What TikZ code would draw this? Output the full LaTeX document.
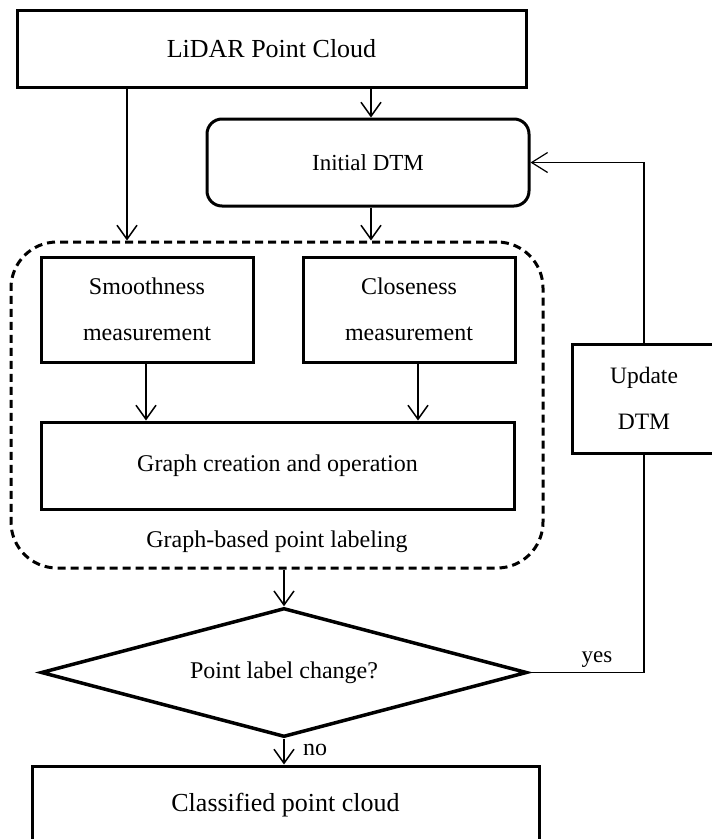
\documentclass[tikz,border=0pt]{standalone}
\usepackage{fontspec}
\setmainfont{Liberation Serif}
\usetikzlibrary{arrows.meta,shapes.geometric}
\begin{document}
\begin{tikzpicture}[x=1pt,y=-1pt,
  box/.style={draw,line width=3pt,rectangle,inner sep=0pt,align=center,font=\fontsize{24}{46}\selectfont},
  bigbox/.style={box,font=\fontsize{26}{30}\selectfont},
  arr/.style={line width=1.5pt,-{Straight Barb[length=14pt,width=20pt]}},
  fb/.style={line width=1.2pt},
  lbl/.style={inner sep=0pt,font=\fontsize{24}{28}\selectfont}]
\useasboundingbox (0,0) rectangle (712,839);
\node[bigbox,minimum width=509pt,minimum height=77pt] (lidar) at (271.5,48.5) {LiDAR Point Cloud};
\node[box,rounded corners=15pt,minimum width=322pt,minimum height=87pt,font=\fontsize{23}{28}\selectfont] (init) at (368,162.5) {Initial DTM};
\node[draw,line width=3pt,dash pattern=on 8pt off 5pt,rounded corners=46pt,minimum width=532pt,minimum height=326pt,inner sep=0pt] (group) at (277,405) {};
\node[box,minimum width=212pt,minimum height=105pt] (smooth) at (147,309.5) {Smoothness\\measurement};
\node[box,minimum width=212pt,minimum height=105pt] (close) at (409,309.5) {Closeness\\measurement};
\node[box,minimum width=473pt,minimum height=87pt] (graph) at (277.5,465.5) {Graph creation and operation};
\node[lbl] (glabel) at (277,542) {Graph-based point labeling};
\node[box,minimum width=144pt,minimum height=109pt,font=\fontsize{23.5}{46}\selectfont] (update) at (644,398.5) {Update\\DTM};
\node[draw,diamond,line width=3.5pt,inner sep=0pt,minimum width=486pt,minimum height=129pt,aspect=3.77,font=\fontsize{24}{28}\selectfont] (dec) at (284,672.5) {Point label change?};
\node[bigbox,minimum width=507pt,minimum height=78pt] (cls) at (285.5,805) {Classified point cloud};
\coordinate (xL) at (127,0);
\coordinate (xI) at (371,0);
\coordinate (xS) at (146,0);
\coordinate (xC) at (418,0);
\draw[arr] (lidar.south -| xI) -- (init.north -| xI);
\draw[arr] (lidar.south -| xL) -- (group.north -| xL);
\draw[arr] (init.south -| xI) -- (group.north -| xI);
\draw[arr] (smooth.south -| xS) -- (graph.north -| xS);
\draw[arr] (close.south -| xC) -- (graph.north -| xC);
\draw[arr] (group.south -| dec.north) -- (dec.north);
\draw[arr] (dec.south) -- (cls.north -| dec.south);
\draw[fb] (dec.east) -| (update.south);
\draw[fb,-{Straight Barb[length=16pt,width=20pt]}] (update.north) |- (init.east);
\node[lbl,font=\fontsize{23}{28}\selectfont] (yes) at (597,660) {yes};
\node[lbl] (no) at (315,750) {no};
\end{tikzpicture}
\end{document}
